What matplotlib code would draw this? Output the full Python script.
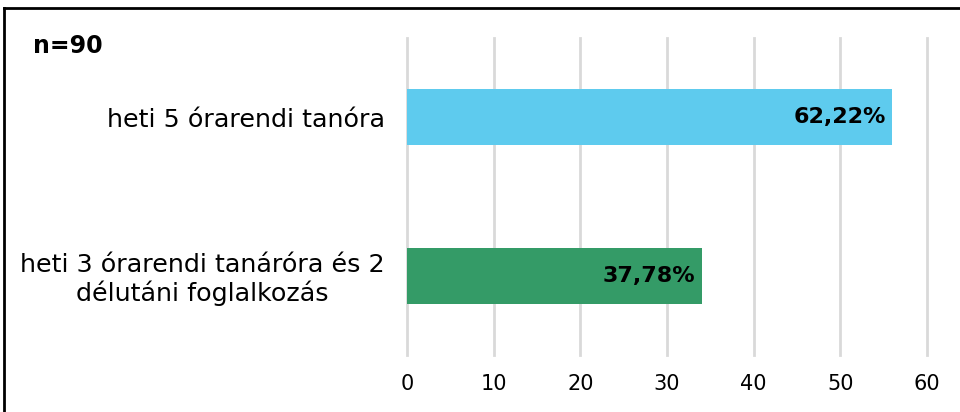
import matplotlib
matplotlib.use("Agg")
import matplotlib.pyplot as plt
from matplotlib.lines import Line2D

# Data
categories = ["heti 5 órarendi tanóra",
              "heti 3 órarendi tanáróra és 2\ndélutáni foglalkozás"]
counts = [56, 34]
pct_labels = ["62,22%", "37,78%"]
colors = ["#5ECBEE", "#349B67"]
xticks = [0, 10, 20, 30, 40, 50, 60]
n_label = "n=90"

plt.rcParams['font.family'] = ['DejaVu Sans']

fig = plt.figure(figsize=(9.6, 4.12), dpi=100)
ax = fig.add_axes([407 / 960, 1 - 355 / 412, 520 / 960, 317 / 412])

ypos = list(range(len(categories)))
ax.barh(ypos, counts, height=0.355, color=colors, zorder=3)
for y, v, lab in zip(ypos, counts, pct_labels):
    ax.text(v - 0.7, y, lab, ha="right", va="center", fontsize=16,
            fontweight="bold", color="black", zorder=4)

ax.set_xlim(0, 60)
ax.set_ylim(1.5, -0.5)
ax.set_xticks(xticks)
ax.set_xticklabels([str(t) for t in xticks], fontsize=15)
ax.set_yticks(ypos)
ax.set_yticklabels(categories, fontsize=18.3, multialignment="center",
                   linespacing=1.15)
ax.tick_params(axis="both", length=0)
ax.tick_params(axis="x", pad=14)
ax.tick_params(axis="y", pad=16)
ax.grid(axis="x", color="#D9D9D9", linewidth=2, zorder=0)
for gl in ax.get_xgridlines():
    gl.set_clip_on(False)
for s in ax.spines.values():
    s.set_visible(False)

fig.text(33 / 960, 1 - 46 / 412, n_label, fontsize=17, fontweight="bold",
         ha="left", va="center")

# Frame (top and left edges only visible)
fig.add_artist(Line2D([4 / 960, 4 / 960], [0, 1 - 8 / 412], color="black",
                      linewidth=2, transform=fig.transFigure))
fig.add_artist(Line2D([4 / 960, 1], [1 - 8 / 412, 1 - 8 / 412], color="black",
                      linewidth=2, transform=fig.transFigure))

fig.savefig("out.png", dpi=100)
